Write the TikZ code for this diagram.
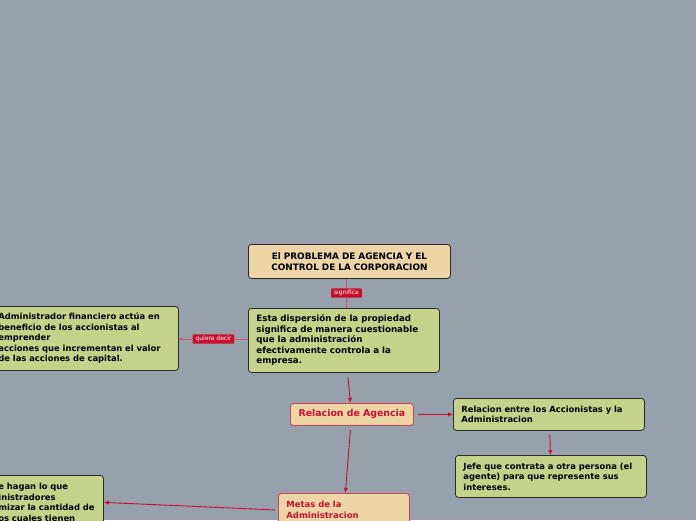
\documentclass[tikz,border=0pt]{standalone}
\usepackage{fontspec}
\setmainfont{DejaVu Sans}
\usetikzlibrary{arrows.meta,positioning,calc}
\definecolor{canvasGray}{HTML}{97A1AB}
\definecolor{ideaGreen}{HTML}{C4D28A}
\definecolor{topicTan}{HTML}{EDD5A6}
\definecolor{linkRed}{HTML}{C8102E}
\definecolor{linkPink}{HTML}{C25A78}
\definecolor{edgeDark}{HTML}{2A2A2A}

\begin{document}
\begin{tikzpicture}[x=1pt, y=-1pt,
  box/.style={draw=edgeDark, line width=0.8pt, rounded corners=3pt, anchor=north west, inner xsep=8pt, inner ysep=3pt, font=\bfseries\fontsize{8.4}{10.5}\selectfont, align=left},
  idea/.style={box, fill=ideaGreen},
  topic/.style={box, fill=topicTan, draw=linkRed!80, text=linkRed, font=\bfseries\fontsize{9.4}{11}\selectfont},
  tag/.style={fill=linkRed, text=white, rounded corners=1pt, inner xsep=3pt, inner ysep=1.8pt, font=\fontsize{6}{6.5}\selectfont},
  link/.style={linkPink, line width=0.6pt},
  arrow/.style={-{Latex[length=5pt,width=4.5pt]}, linkRed, line width=0.9pt}
]
\useasboundingbox (0,0) rectangle (696,520);
\clip (0,0) rectangle (696,520);
\fill[canvasGray] (0,0) rectangle (696,520);

% nodes
\node[box, fill=topicTan, align=center, text width=186pt, minimum height=34pt, font=\bfseries\fontsize{8.9}{11}\selectfont] (problem) at (248,244) {El PROBLEMA DE AGENCIA Y EL\\CONTROL DE LA CORPORACION};
\node[idea, text width=175pt, minimum height=64pt, font=\bfseries\fontsize{8.7}{10.5}\selectfont] (disp) at (248,308) {Esta dispersión de la propiedad\\significa de manera cuestionable\\que la administración\\efectivamente controla a la\\empresa.};
\node[idea, text width=172pt, minimum height=64pt] (meaning) at (-10,306) {Administrador financiero actúa en\\beneficio de los accionistas al\\emprender\\acciones que incrementan el valor\\de las acciones de capital.};
\node[topic, align=center, text width=107pt, minimum height=22pt] (agency) at (290,403) {Relacion de Agencia};
\node[idea, text width=175pt, minimum height=32pt] (relation) at (453,398) {Relacion entre los Accionistas y la\\Administracion};
\node[idea, text width=175pt, minimum height=42pt] (boss) at (455,455) {Jefe que contrata a otra persona (el\\agente) para que represente sus\\intereses.};
\node[topic, text width=115pt, inner ysep=8pt, font=\bfseries\fontsize{8.5}{10.5}\selectfont] (goals) at (278,493) {Metas de la\\Administracion\\[2pt]};
\node[idea, text width=99pt, inner xsep=6pt, inner ysep=8pt] (wish) at (-8,475) {e hagan lo que\\inistradores\\mizar la cantidad de\\os cuales tienen\\[12pt]};

% tags
\node[tag] (sig) at (346.5,293) {significa};
\node[tag] (means) at (213.5,339) {quiere decir};

% connectors
\draw[link] (sig) -- (sig |- problem.south);
\draw[link] (sig) -- (sig |- disp.north);
\draw[link] (means) -- (means -| disp.west);
\draw[link, -{Latex[length=3pt,width=3pt]}] (means) -- (means -| meaning.east);
\draw[arrow] ($(disp.south)+(4,4)$) -- ($(agency.north)+(-1.5,0)$);
\draw[arrow] ($(agency.east)+(4,0)$) -- (agency.east -| relation.west);
\draw[arrow] ($(relation.south)+(1,4)$) -- ($(boss.north)+(-0.5,0)$);
\draw[arrow] ($(agency.south)+(-1.5,4)$) -- ($(goals.north)+(1.5,0)$);
\draw[arrow] ($(goals.west)+(-3,0)$) -- ($(wish.east)+(0,0)$);
\end{tikzpicture}
\end{document}
